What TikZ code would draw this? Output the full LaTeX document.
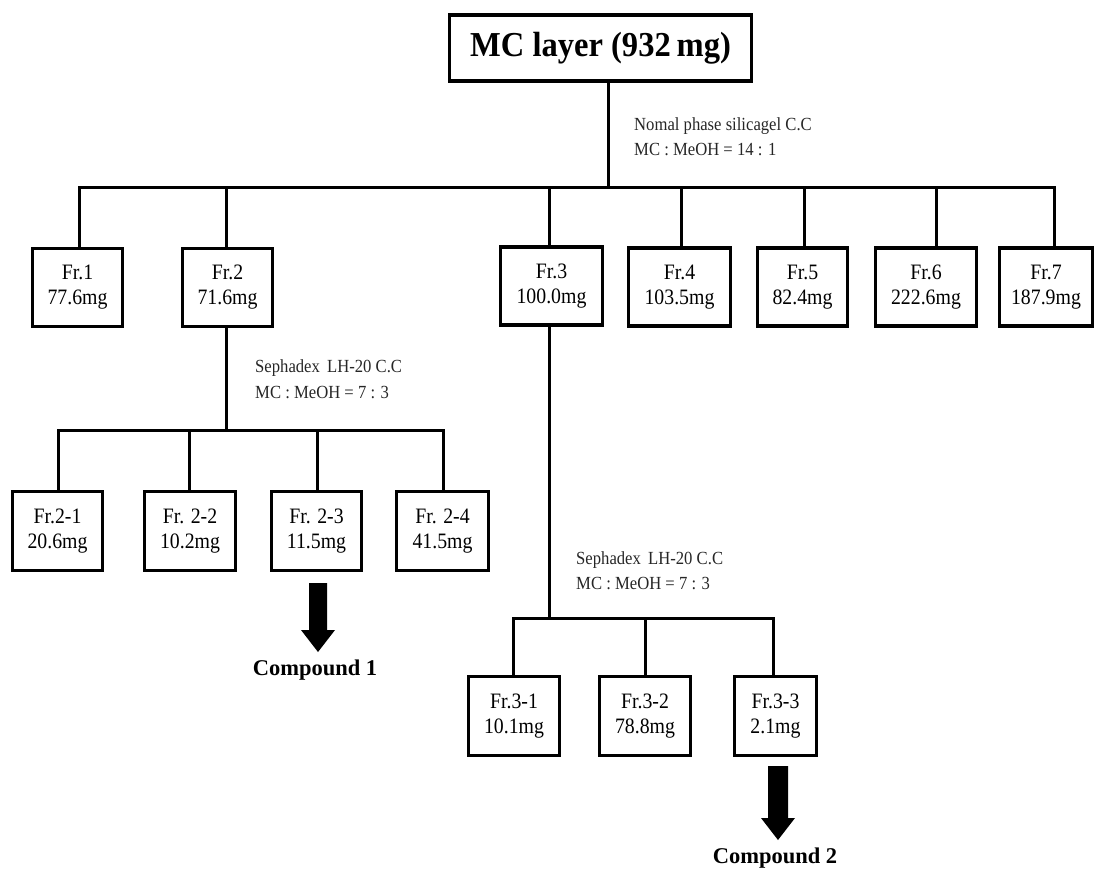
\documentclass[tikz,border=0pt]{standalone}
\usepackage{fontspec}
\setmainfont{Liberation Serif}
\newfontfamily\narrowserif[FakeStretch=0.9]{Liberation Serif}
\newfontfamily\titleserif[FakeStretch=0.93]{Liberation Serif}
\begin{document}
\begin{tikzpicture}[x=1pt,y=-1pt,
  frbox/.style={draw=black, line width=3.4pt, fill=white, align=center, inner sep=0pt,
    font=\narrowserif\fontsize{22}{25}\selectfont},
  sz/.style 2 args={minimum width=#1pt, minimum height=#2pt},
  link/.style={line width=3pt},
  bar/.style={line width=3pt, line cap=rect},
  cond/.style={font=\narrowserif\fontsize{18.5}{20}\selectfont, anchor=base west, inner sep=0pt, text=black!85},
  cmpd/.style={font=\bfseries\fontsize{22.5}{24}\selectfont, anchor=base, inner sep=0pt}
]
\useasboundingbox (0,0) rectangle (1098,871);

% top node
\node[frbox, sz={302}{66}, font=\titleserif\bfseries\fontsize{35}{38}\selectfont] (top) at (600.5,48) {\raisebox{-6pt}{MC layer (932\,mg)}};

% first level
\node[frbox, sz={90}{78}] (f1) at (77.5,287.5) {Fr.1\\77.6mg};
\node[frbox, sz={90}{78}] (f2) at (227.5,287.5) {Fr.2\\71.6mg};
\node[frbox, sz={102}{78}] (f3) at (551.5,286) {Fr.3\\100.0mg};
\node[frbox, sz={102}{78}] (f4) at (679.5,287) {Fr.4\\103.5mg};
\node[frbox, sz={90}{78}] (f5) at (802.5,287) {Fr.5\\82.4mg};
\node[frbox, sz={101}{78}] (f6) at (926,287) {Fr.6\\222.6mg};
\node[frbox, sz={93}{78}] (f7) at (1046,287) {Fr.7\\187.9mg};

% second level (Fr.2)
\node[frbox, sz={90}{79}] (f21) at (57.5,531) {Fr.2-1\\20.6mg};
\node[frbox, sz={91}{79}] (f22) at (190,531) {Fr. 2-2\\10.2mg};
\node[frbox, sz={90}{79}] (f23) at (316.5,531) {Fr. 2-3\\11.5mg};
\node[frbox, sz={92}{79}] (f24) at (442.5,531) {Fr. 2-4\\41.5mg};

% second level (Fr.3)
\node[frbox, sz={91}{79}] (f31) at (514,716) {Fr.3-1\\10.1mg};
\node[frbox, sz={91}{79}] (f32) at (645,716) {Fr.3-2\\78.8mg};
\node[frbox, sz={82}{79}] (f33) at (775.5,716) {Fr.3-3\\2.1mg};

% conditions
\node[cond] (c0a) at (634,130) {Nomal phase silicagel C.C};
\node[cond] (c0b) at (634,155) {MC : MeOH = 14 : 1};
\node[cond] (c2a) at (255,372) {Sephadex\, LH-20 C.C};
\node[cond] (c2b) at (255,398) {MC : MeOH = 7 : 3};
\node[cond] (c3a) at (576,564) {Sephadex\, LH-20 C.C};
\node[cond] (c3b) at (576,589) {MC : MeOH = 7 : 3};

% main tree
\coordinate (b0) at (608,187);
\coordinate (d1) at (79,187);
\coordinate (d2) at (226,187);
\coordinate (d3) at (549,187);
\coordinate (d4) at (681,187);
\coordinate (d5) at (804,187);
\coordinate (d6) at (936,187);
\coordinate (d7) at (1054,187);
\draw[link] (top.south -| b0) -- (b0);
\draw[bar] (d1) -- (d7);
\foreach \i in {1,...,7} {\draw[link] (d\i) -- (d\i |- f\i.north);}

% Fr.2 tree
\coordinate (e0) at (226,430);
\coordinate (e1) at (58,430);
\coordinate (e2) at (189,430);
\coordinate (e3) at (317,430);
\coordinate (e4) at (443,430);
\draw[link] (f2.south -| e0) -- (e0);
\draw[bar] (e1) -- (e4);
\draw[link] (e1) -- (e1 |- f21.north);
\draw[link] (e2) -- (e2 |- f22.north);
\draw[link] (e3) -- (e3 |- f23.north);
\draw[link] (e4) -- (e4 |- f24.north);

% Fr.3 tree
\coordinate (g0) at (549,618);
\coordinate (g1) at (513,618);
\coordinate (g2) at (645,618);
\coordinate (g3) at (773,618);
\draw[link] (f3.south -| g0) -- (g0);
\draw[bar] (g1) -- (g3);
\draw[link] (g1) -- (g1 |- f31.north);
\draw[link] (g2) -- (g2 |- f32.north);
\draw[link] (g3) -- (g3 |- f33.north);

% block arrows and compounds
\coordinate (a1) at (318,583);
\fill (a1) ++(-9,0) -- ++(18,0) -- ++(0,47) -- ++(8,0) -- ++(-17,22) -- ++(-17,-22) -- ++(8,0) -- cycle;
\node[cmpd] (k1) at (315,675) {Compound 1};

\coordinate (a2) at (778,766);
\fill (a2) ++(-10,0) -- ++(20,0) -- ++(0,52) -- ++(7,0) -- ++(-17,22) -- ++(-17,-22) -- ++(7,0) -- cycle;
\node[cmpd] (k2) at (775,863) {Compound 2};
\end{tikzpicture}
\end{document}
